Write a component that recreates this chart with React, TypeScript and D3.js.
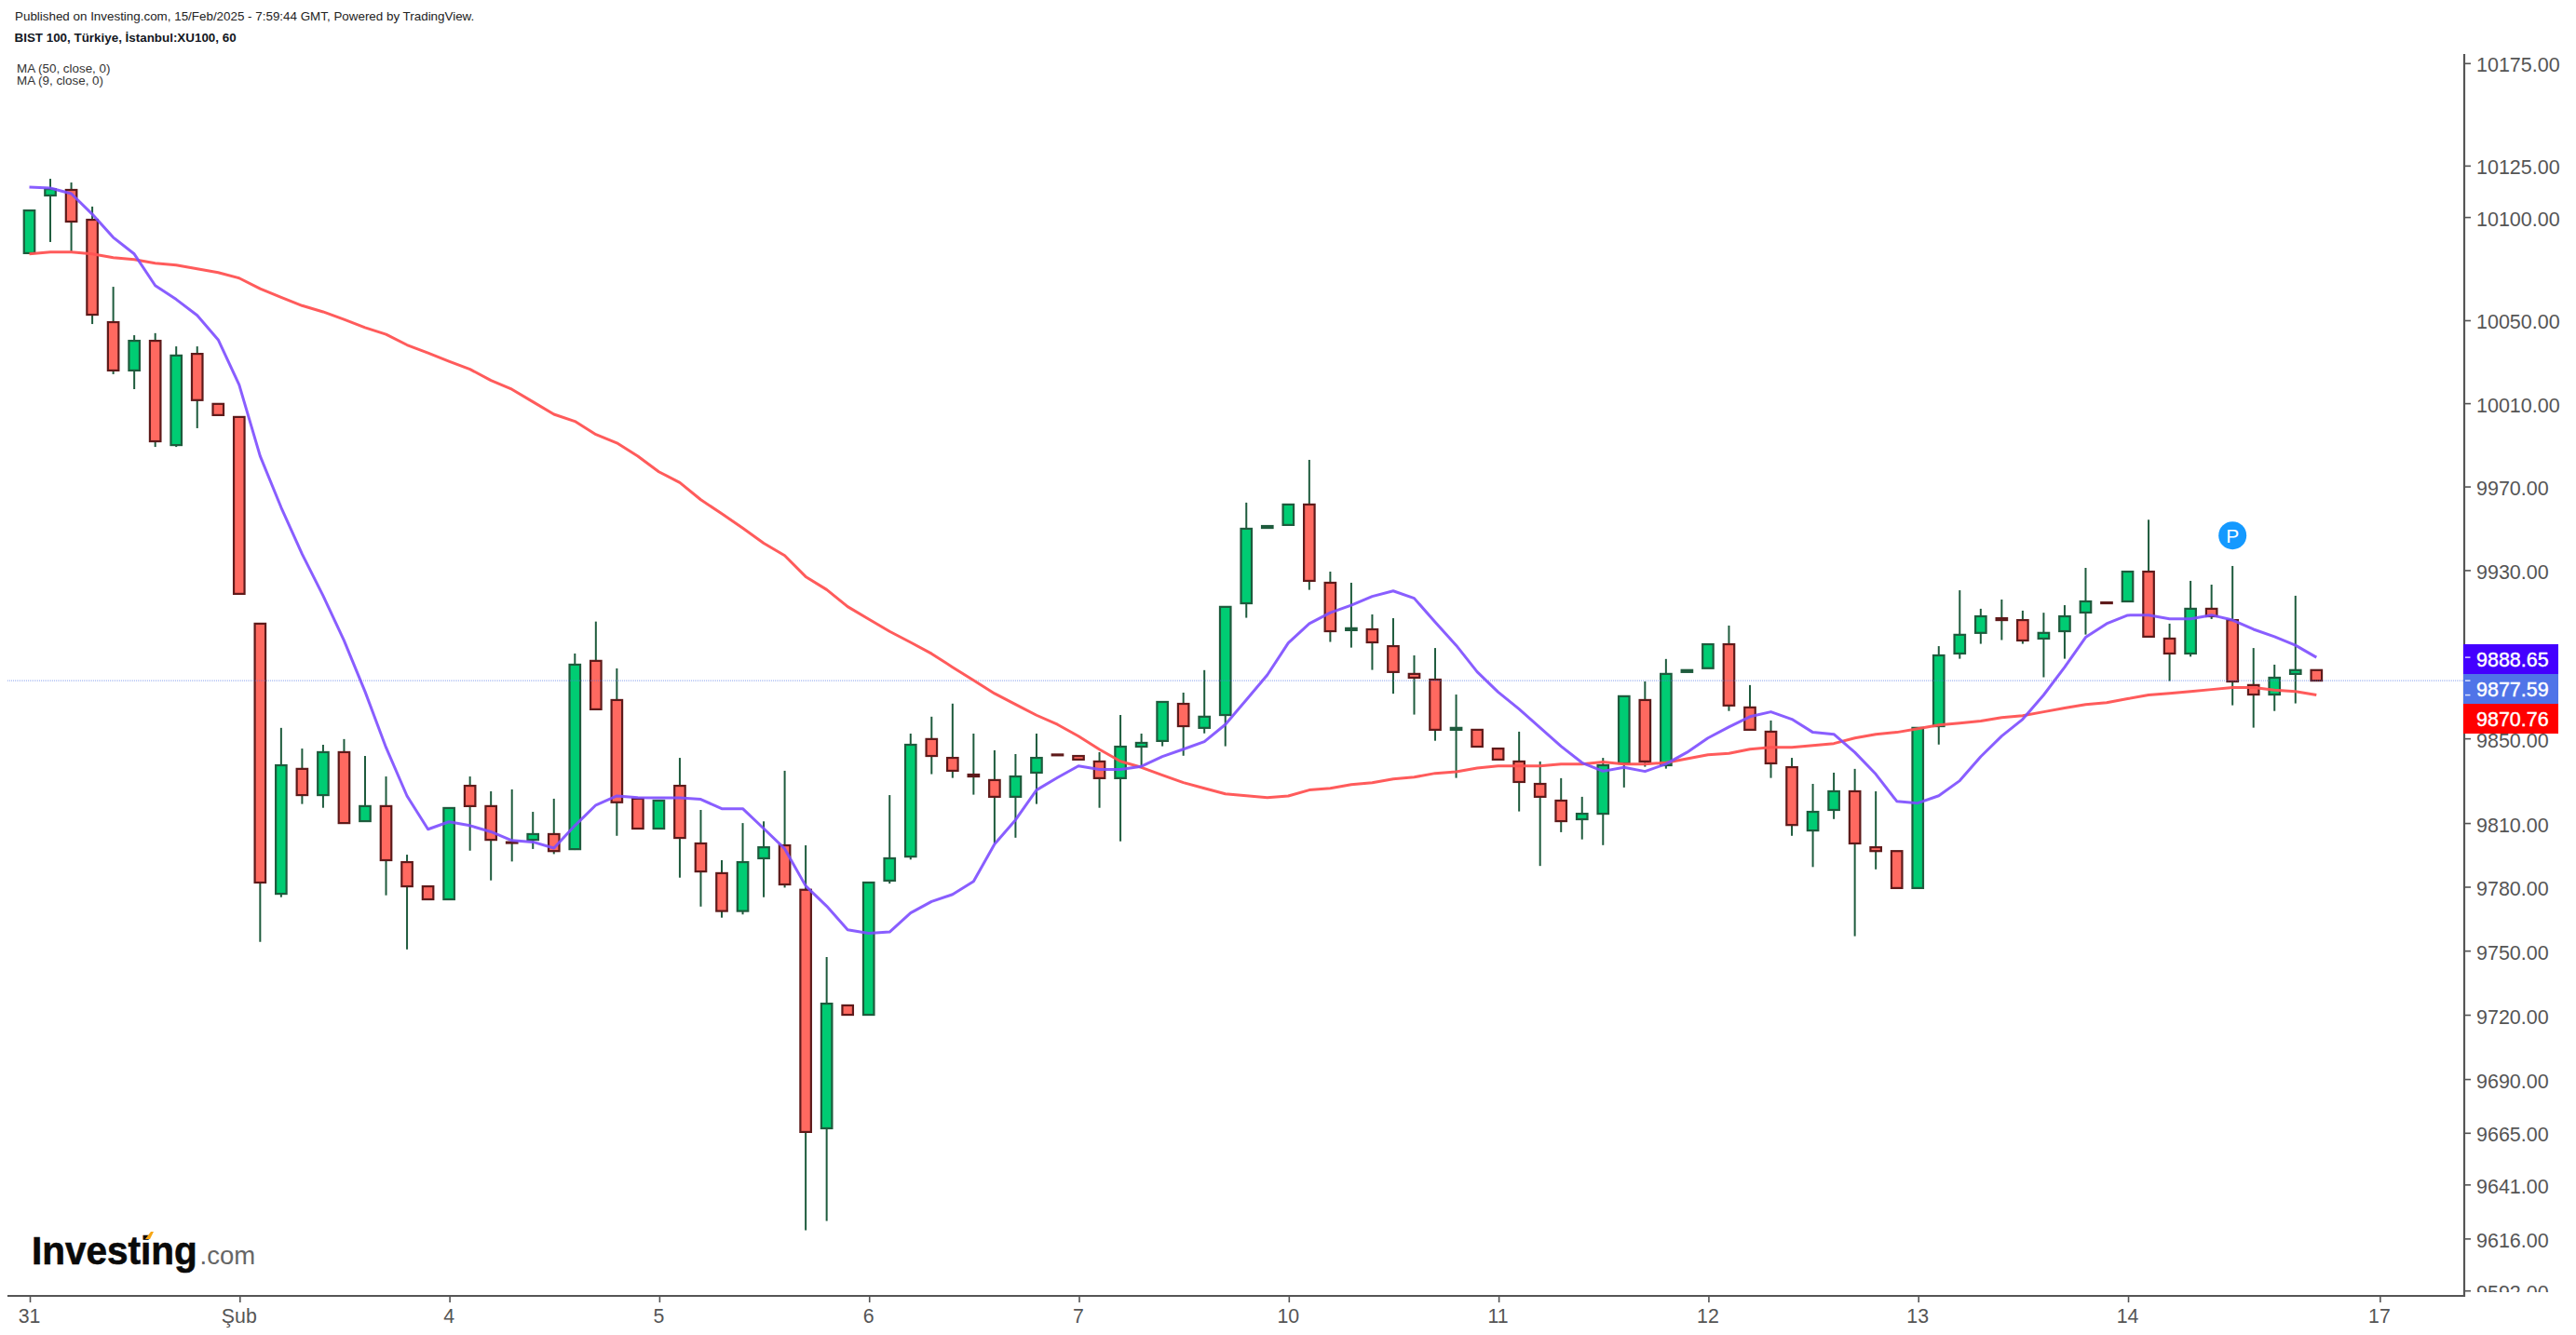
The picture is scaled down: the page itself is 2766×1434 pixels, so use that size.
import React from "react";
import * as d3 from "d3";

const opens = [10082.7,10110.7,10113.4,10098.9,10049.3,10026.0,10040.3,9990.1,10034,10009.9,
10003.6,9904.7,9776.9,9835.8,9823.4,9843.7,9811.1,9818.2,9791.8,9780.4,
9774.3,9827.8,9818.2,9801.2,9802.3,9805,9797.9,9887,9868.4,9821.7,
9807.6,9827.8,9800.6,9786.6,9768.8,9793.6,9799.7,9778.8,9667.3,9724.6,
9720.2,9783.1,9794.4,9849.9,9841,9833.1,9830.5,9822.6,9834,9842.6,
9841.9,9839.3,9831.4,9846.3,9849,9866.6,9855.2,9861.3,9914.4,9950.4,
9951.8,9961.6,9924.2,9901.6,9902,9894,9880.8,9878.1,9854.3,9854.3,
9845.4,9839.3,9828.7,9820.8,9812,9814.6,9838.4,9868.4,9837.5,9881.7,
9883.5,9894.9,9864.9,9853.4,9836.6,9806.7,9816.4,9825.2,9798.8,9797,
9779.6,9856,9890.5,9900.3,9907.3,9906.4,9897.6,9901.1,9910,9914.8,
9915.3,9929.5,9897.6,9890.5,9911.8,9906.4,9875.5,9871,9880.8,9882.6];
const closes = [10103.4,10113.8,10098.0,10052.9,10026.0,10040.3,9991.9,10033.2,10011.7,10004.5,
9918.9,9782.2,9837.5,9823.4,9843.7,9810.2,9818.2,9792.7,9780.4,9774.3,
9817.3,9818.2,9802.3,9800.8,9805,9797,9885.2,9864,9820,9807.6,
9820.8,9803.2,9787.4,9768.8,9791.8,9798.8,9781.3,9665.6,9725.4,9720.2,
9782.2,9793.6,9847.2,9841.9,9834.9,9832.2,9822.6,9832.2,9841,9842.2,
9840.2,9831.4,9846.3,9848.1,9867.5,9856,9860.5,9912.7,9950,9951.3,
9961.6,9925.1,9901.1,9902.5,9895.8,9881.7,9879,9854.3,9855.2,9846.3,
9840.2,9829.6,9822.6,9811.1,9814.6,9837.5,9870.2,9839.3,9880.8,9882.6,
9894.9,9865.8,9854.3,9838.4,9809.3,9815.5,9825.2,9800.6,9797,9779.6,
9855.2,9889.6,9899.4,9908.2,9906.4,9896.7,9900.3,9908.2,9915.3,9914.4,
9929.5,9898.5,9890.5,9911.8,9908.2,9877.2,9871,9879,9882.6,9877.6];
const highs = [10103.4,10118.8,10117,10105.3,10066.4,10043,10044,10037.6,10037.6,10009.9,
10003.6,9904.7,9855.2,9845.4,9847.2,9849.9,9841.9,9832.2,9795.3,9780.4,
9817.3,9832.2,9825.2,9826.1,9815.5,9821.7,9890.5,9905.7,9883.4,9821.7,
9820.8,9841,9816.4,9792.7,9810.2,9811,9834.9,9799.7,9747.2,9724.6,
9782.2,9823.4,9852.5,9860.5,9866.7,9852.5,9844.6,9842.8,9852.5,9842.6,
9841.9,9843.7,9861.3,9852.5,9867.5,9871.9,9882.6,9912.7,9962.5,9951.3,
9961.6,9983,9929.5,9924.2,9909.1,9907.3,9889.6,9893.1,9871,9854.3,
9845.4,9853.4,9839.3,9831.4,9822.6,9841,9870.2,9877.2,9887.9,9882.6,
9894.9,9903.8,9875.5,9858.7,9841,9828.7,9834,9835.8,9825.2,9797,
9855.2,9894,9920.6,9911.8,9916.2,9910.9,9909.9,9913.5,9931.3,9914.8,
9929.5,9954.3,9904.7,9925.1,9923.3,9932.2,9893.1,9885.2,9918,9882.6];
const lows = [10082.7,10088.1,10083.6,10048.4,10024.2,10017,9989.2,9989.2,9998.2,10004.5,
9918.9,9754.3,9775.3,9819.2,9817.4,9809.8,9810.7,9776.2,9750.8,9774.3,
9774.3,9797.2,9783.2,9792.1,9798,9795.6,9797.5,9863.6,9804.2,9807.6,
9807.6,9784.5,9770.9,9765.7,9767.2,9775.3,9779.8,9620,9624.3,9720.2,
9720.2,9781.7,9793,9833.3,9831.5,9823.6,9800.7,9803.3,9819.2,9842.2,
9840.2,9817.4,9801.6,9837.1,9846.5,9842,9852.6,9846.5,9907.5,9950.4,
9951.8,9920.8,9896,9893.3,9882.7,9871.4,9861.5,9849.1,9831.5,9846.3,
9840.2,9815.7,9790,9805.9,9802.5,9799.8,9827,9836.8,9835.9,9881.7,
9883.5,9863.2,9853.8,9831.5,9804.2,9789.5,9812.1,9757,9788.4,9779.6,
9779.6,9847.3,9888,9895.1,9896.9,9895.1,9879.2,9888,9899.5,9914.4,
9915.3,9898.5,9877.4,9889,9906.9,9865.9,9855.3,9863.2,9866.8,9877.6];
const ma9 = [10114.7,10114.3,10111.6,10101.6,10090.3,10082.3,10067,10060.3,10052.6,10040.8,
10019.1,9984.8,9960.2,9937.9,9918,9896.6,9872.4,9845.9,9823,9807.3,
9810.8,9809,9806.1,9802,9801.3,9798.4,9809,9818.7,9823,9822.2,
9822.1,9822.1,9821.4,9817,9817,9807.6,9798.1,9780.6,9771.1,9760,
9758.4,9759,9767.9,9773.3,9776.6,9782.7,9800.3,9811.7,9825.8,9831.7,
9837.2,9835.5,9835.5,9837,9841.6,9845.1,9848.7,9856.8,9868.5,9880.3,
9895.5,9904.7,9909.9,9913.5,9917.7,9920.3,9916.8,9905.4,9894.4,9881.8,
9872.2,9864.1,9855.3,9846.5,9838.7,9834.7,9836.5,9834.6,9838.1,9843.6,
9850.4,9855.6,9860.5,9862.8,9859.3,9853.1,9852.2,9843.6,9833.3,9820.5,
9819.6,9823.1,9830.2,9841.6,9851.3,9859.3,9870.8,9884,9898.2,9904.7,
9908.7,9908.8,9907,9907,9908.8,9906.4,9902,9898.5,9894.4,9888.65];
const ma50 = [10082.3,10083.2,10083.2,10082.3,10080.5,10079.6,10077.8,10076.9,10075.1,10073.3,
10070.6,10065.5,10061.3,10057.3,10054.3,10050.6,10046.7,10043.4,10038.3,10034.4,
10030.4,10026.6,10021.2,10016.9,10010.9,10004.9,10001.5,9995.2,9991.1,9984.8,
9977.3,9972.1,9963.9,9957.2,9950.3,9943.1,9937.2,9927.1,9920.9,9912.8,
9906.9,9901,9895.8,9890.4,9884,9877.8,9871.5,9866.3,9861.2,9856.8,
9851.3,9845,9839.4,9836.5,9832.8,9829.3,9826.6,9824,9823.1,9822.2,
9823,9825.8,9826.6,9828.4,9829.3,9831,9831.9,9833.7,9834.4,9836.2,
9837.2,9837.2,9837.2,9838.1,9838.1,9839,9838.1,9838.1,9838.7,9840.6,
9842.5,9843.1,9845.1,9846,9846,9846.9,9847.8,9850.4,9852.2,9853.1,
9854.8,9856.6,9857.5,9858.4,9860.1,9861,9862.8,9864.6,9866.3,9867.2,
9869,9870.8,9871.6,9872.5,9873.4,9874.3,9874.3,9873.1,9872.5,9870.76];

const yTickValues = [10175,10125,10100,10050,10010,9970,9930,9850,9810,9780,9750,9720,9690,9665,9641,9616,9592];
const xTickBars = [0,10,20,30,40,50,60,70,80,90,100,112];
const xTickLabels = ["31","Şub","4","5","6","7","10","11","12","13","14","17"];
const priceBadges = [
  { value: 9888.65, fill: "#4400ff" },
  { value: 9877.59, fill: "#5074e8" },
  { value: 9870.76, fill: "#ff0000" },
];
const lastPrice = 9877.59;
const markerBar = 105;
const markerPrice = 9946.8;

const FONT = "'Liberation Sans', Arial, sans-serif";
const W = 2766, H = 1434;
const AXIS_X = 2646, AXIS_Y = 1392;

export default function App() {
  const bars = d3.range(opens.length);
  const x = d3.scaleLinear().domain([0, 109]).range([31.5, 2487.3]);
  const y = d3.scaleLog().domain([10175, 9592]).range([68.3, 1386.7]);
  const line = d3.line<number>().x((_, i) => x(i)).y((d) => y(d));
  const bodyW = 11.5;
  const GREEN = "#00cc73", RED = "#ff6960", GREEN_D = "#1e5b3d", RED_D = "#5e1a1a";
  return (
    <svg width={W} height={H} viewBox={`0 0 ${W} ${H}`}
      style={{ position: "fixed", left: 0, top: 0, display: "block", background: "#fff", fontFamily: FONT }}>
      <defs>
        <clipPath id="yLabels"><rect x={AXIS_X + 1} y={50} width={120} height={1338} /></clipPath>
      </defs>
      <rect width={W} height={H} fill="#fff" />

      <text x={16} y={21.5} fontSize={13.4} fill="#222">Published on Investing.com, 15/Feb/2025 - 7:59:44 GMT, Powered by TradingView.</text>
      <text x={15.5} y={45} fontSize={13.4} fontWeight={700} fill="#131722">BIST 100, Türkiye, İstanbul:XU100, 60</text>
      <text x={18} y={77.5} fontSize={13.4} fill="#333">MA (50, close, 0)</text>
      <text x={18} y={91} fontSize={13.4} fill="#333">MA (9, close, 0)</text>

      <g>
        {bars.map((i) => (
          <line key={i} x1={x(i)} x2={x(i)} y1={y(highs[i])} y2={y(lows[i])} stroke={GREEN_D} strokeWidth={2} />
        ))}
        {bars.map((i) => {
          const up = closes[i] >= opens[i];
          const top = y(Math.max(opens[i], closes[i]));
          const bot = y(Math.min(opens[i], closes[i]));
          return (
            <rect key={i} x={x(i) - bodyW / 2} y={top} width={bodyW} height={Math.max(bot - top, 0.6)}
              fill={up ? GREEN : RED} stroke={up ? GREEN_D : RED_D} strokeWidth={2.2} />
          );
        })}
      </g>

      <line x1={8} x2={AXIS_X} y1={y(lastPrice)} y2={y(lastPrice)} stroke="#5074e8" strokeOpacity={0.55} strokeWidth={1.4} strokeDasharray="1 1" />

      <path d={line(ma50) as string} fill="none" stroke="#ff5252" strokeOpacity={0.95} strokeWidth={3} strokeLinejoin="round" />
      <path d={line(ma9) as string} fill="none" stroke="#7c4dff" strokeOpacity={0.9} strokeWidth={3} strokeLinejoin="round" />

      <circle cx={x(markerBar)} cy={y(markerPrice)} r={15} fill="#1499ff" />
      <text x={x(markerBar)} y={y(markerPrice) + 7.5} textAnchor="middle" fontSize={21} fill="#fff">P</text>

      <g stroke="#555" strokeWidth={2.2}>
        <line x1={8} x2={AXIS_X + 1} y1={AXIS_Y} y2={AXIS_Y} />
        <line x1={AXIS_X} x2={AXIS_X} y1={58} y2={AXIS_Y + 1} />
      </g>
      {xTickBars.map((b, i) => (
        <g key={b}>
          <line x1={x(b) + 1} x2={x(b) + 1} y1={AXIS_Y} y2={AXIS_Y + 7} stroke="#555" strokeWidth={1.6} />
          <text x={x(b)} y={1420.5} textAnchor="middle" fontSize={21.3} fill="#555">{xTickLabels[i]}</text>
        </g>
      ))}
      <g clipPath="url(#yLabels)">
        {yTickValues.map((v) => (
          <g key={v}>
            <line x1={AXIS_X} x2={AXIS_X + 7} y1={y(v)} y2={y(v)} stroke="#555" strokeWidth={1.6} />
            <text x={2659} y={y(v) + 9} fontSize={21.5} fill="#555">{v.toFixed(2)}</text>
          </g>
        ))}
      </g>
      {priceBadges.map((b, i) => {
        const top = 692 + i * 32;
        return (
          <g key={b.value}>
            <rect x={2645} y={top} width={102} height={32} fill={b.fill} />
            <line x1={2647} x2={2652.5} y1={y(b.value)} y2={y(b.value)} stroke="#fff" strokeOpacity={0.8} strokeWidth={1.5} />
            <text x={2659} y={top + 24} fontSize={21.5} fill="#fff" stroke="#fff" strokeWidth={0.4}>{b.value.toFixed(2)}</text>
          </g>
        );
      })}

      <g>
        <text transform="translate(34,1358) scale(1,1.06)" fontSize={40.5} fontWeight={700} fill="#0a0a0a" stroke="#0a0a0a" strokeWidth={0.6}>Investing</text>
        <path d="M156 1331 L162 1323 L165 1323 L161 1331 Z" fill="#f7a614" />
        <text x={214.5} y={1358} fontSize={27.5} fill="#666">.com</text>
      </g>
    </svg>
  );
}
